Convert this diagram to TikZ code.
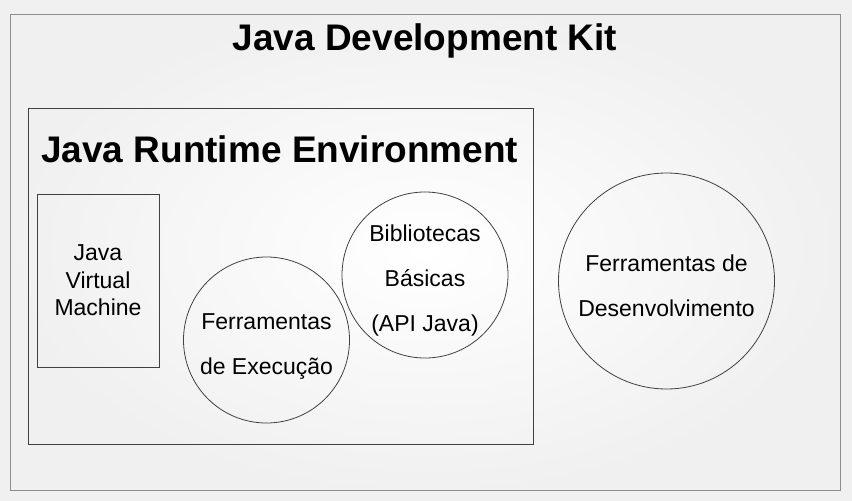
\documentclass[tikz,border=0pt]{standalone}
\usepackage{fontspec}
\setmainfont{Liberation Sans}

\begin{document}
\begin{tikzpicture}[x=1pt,y=-1pt,
    caixa/.style={rectangle,draw=black!75,line width=0.8pt,inner sep=0pt},
    bola/.style={circle,draw=black!75,line width=0.8pt,inner sep=0pt},
    texto/.style={inner sep=0pt,align=center,font=\fontsize{23}{45}\selectfont},
    titulo/.style={inner sep=0pt,font=\fontsize{37}{40}\selectfont\bfseries}]

                \shade[inner color=white,outer color=black!6] (0,0) rectangle (852,501);
                \useasboundingbox (0,0) rectangle (852,501);

                \node[caixa,draw=black!45,minimum width=830,minimum height=476] (jdk) at (425,252) {};
                \node[titulo,anchor=base] (jdktitulo) at (425,50) {Java Development Kit};

                \node[caixa,minimum width=505,minimum height=336] (jre) at (280.5,276) {};
                \node[titulo,anchor=base west] (jretitulo) at (41,162) {Java Runtime Environment};

                \node[caixa,minimum width=122,minimum height=173,align=center,font=\fontsize{23}{27.5}\selectfont] (jvm) at (98,280.5) {Java\\Virtual\\Machine};

                \node[bola,minimum size=166] (execucao) at (266.5,340) {};
                \node[texto,yshift=-7] (execucaotexto) at (execucao) {Ferramentas\\de Execução};

                \node[bola,minimum size=166] (bibliotecas) at (425,275) {};
                \node[texto,yshift=-6] (bibliotecastexto) at (bibliotecas) {Bibliotecas\\Básicas\\(API Java)};

                \node[bola,minimum size=216] (desenvolvimento) at (666.5,281) {};
                \node[texto,yshift=-5] (desenvolvimentotexto) at (desenvolvimento) {Ferramentas de\\Desenvolvimento};

            \end{tikzpicture}
\end{document}
